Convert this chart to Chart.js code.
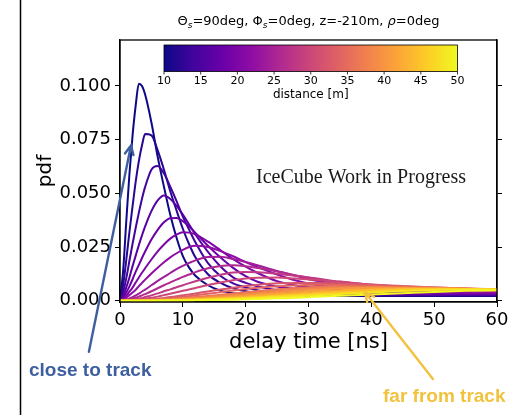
<!DOCTYPE html>
<html lang="en">
<head>
<meta charset="utf-8">
<title>delay time pdf</title>
<script src="https://cdn.jsdelivr.net/npm/chart.js@4.4.1/dist/chart.umd.min.js"></script>
<style>
  html, body { margin: 0; padding: 0; background: #fff; }
  #wrap { position: relative; width: 514px; height: 415px; }
</style>
</head>
<body>
<div id="wrap"><canvas id="grafico" width="514" height="415"></canvas></div>
<script>
// DATOS

const tiempos = [0, 0.5, 1, 1.5, 2, 2.5, 3, 3.5, 4, 5, 6, 7, 8, 9, 10, 11, 12, 14, 16, 18, 20, 22, 25, 28, 31, 35, 40, 45, 50, 55, 60];
const distancias = [10, 12, 14, 16, 18, 20, 22, 24, 26, 28, 30, 32, 34, 36, 38, 40, 42, 44, 46, 48, 50];

const pdf10 = [0, 0.014, 0.037, 0.059, 0.077, 0.091, 0.101, 0.100, 0.096, 0.083, 0.067, 0.053, 0.040, 0.0293, 0.0208, 0.0154, 0.0116, 0.0072, 0.0047, 0.0035, 0.0030, 0.0026, 0.0023, 0.0023, 0.0023, 0.0023, 0.0022, 0.0022, 0.0022, 0.0022, 0.0022];
const pdf12 = [0, 0.0073, 0.019, 0.032, 0.044, 0.0555, 0.065, 0.0724, 0.0776, 0.077, 0.070, 0.061, 0.051, 0.042, 0.0335, 0.0263, 0.0202, 0.0123, 0.0083, 0.0058, 0.0044, 0.0036, 0.0030, 0.0026, 0.0025, 0.0025, 0.0024, 0.0024, 0.0024, 0.0024, 0.0024];
const pdf14 = [0, 0.004, 0.0105, 0.0186, 0.0265, 0.034, 0.041, 0.0475, 0.053, 0.061, 0.0627, 0.0592, 0.0531, 0.0464, 0.0392, 0.0331, 0.0272, 0.0175, 0.0115, 0.0081, 0.0062, 0.0048, 0.0037, 0.0031, 0.0029, 0.0027, 0.0026, 0.0026, 0.0026, 0.0026, 0.0026];
const pdf16 = [0, 0.0023, 0.0062, 0.0108, 0.0161, 0.021, 0.0259, 0.0304, 0.0346, 0.0417, 0.0467, 0.049, 0.0474, 0.0442, 0.0401, 0.0355, 0.0308, 0.0227, 0.0159, 0.0109, 0.0083, 0.0066, 0.0049, 0.0040, 0.0035, 0.0032, 0.0030, 0.0029, 0.0029, 0.0029, 0.0029];
const pdf18 = [0, 0.0013, 0.0038, 0.0067, 0.010, 0.0135, 0.0167, 0.0199, 0.0229, 0.0285, 0.033, 0.0365, 0.0384, 0.0385, 0.037, 0.0346, 0.0316, 0.0256, 0.0201, 0.0153, 0.0114, 0.0087, 0.0066, 0.0054, 0.0044, 0.0038, 0.0035, 0.0033, 0.0032, 0.0032, 0.0032];
const pdf20 = [0, 0.0008, 0.0023, 0.0042, 0.0061, 0.0085, 0.0108, 0.013, 0.0151, 0.0192, 0.023, 0.0262, 0.0289, 0.0308, 0.0319, 0.0317, 0.0309, 0.0275, 0.0235, 0.0194, 0.0159, 0.0128, 0.0091, 0.0071, 0.0061, 0.005, 0.0042, 0.0039, 0.0037, 0.0036, 0.0035];
const pdf22 = [0, 0.0005, 0.0014, 0.0026, 0.0038, 0.0051, 0.0068, 0.0083, 0.0098, 0.0127, 0.0154, 0.0179, 0.0202, 0.0221, 0.0237, 0.025, 0.0256, 0.025, 0.0231, 0.0207, 0.018, 0.0155, 0.0122, 0.0094, 0.0074, 0.0061, 0.0053, 0.0046, 0.0042, 0.004, 0.0039];
const pdf24 = [0, 0.0002, 0.0005, 0.0011, 0.0017, 0.0025, 0.0033, 0.0043, 0.0052, 0.0072, 0.0092, 0.0111, 0.0129, 0.0147, 0.0162, 0.0176, 0.0188, 0.0203, 0.0205, 0.0194, 0.018, 0.0164, 0.0138, 0.0116, 0.0094, 0.0075, 0.006, 0.0056, 0.0051, 0.0047, 0.0044];
const pdf26 = [0, 0.0001, 0.0003, 0.0006, 0.001, 0.0014, 0.0019, 0.0025, 0.0031, 0.0044, 0.0058, 0.0072, 0.0085, 0.0098, 0.0111, 0.0122, 0.0133, 0.0151, 0.0162, 0.0165, 0.0161, 0.0152, 0.0136, 0.0118, 0.0103, 0.0084, 0.0065, 0.0054, 0.0051, 0.0048, 0.0045];
const pdf28 = [0, 0, 0.0001, 0.0003, 0.0005, 0.0007, 0.001, 0.0013, 0.0017, 0.0025, 0.0034, 0.0044, 0.0053, 0.0063, 0.0072, 0.0082, 0.0091, 0.0107, 0.0121, 0.0131, 0.0134, 0.0133, 0.0126, 0.0116, 0.0105, 0.0089, 0.0074, 0.0061, 0.0054, 0.005, 0.0049];
const pdf30 = [0, 0, 0.0001, 0.0001, 0.0002, 0.0004, 0.0005, 0.0007, 0.0009, 0.0014, 0.0019, 0.0026, 0.0032, 0.0039, 0.0046, 0.0052, 0.0059, 0.0073, 0.0085, 0.0095, 0.0103, 0.0107, 0.0108, 0.0103, 0.0098, 0.0088, 0.0075, 0.0066, 0.0057, 0.005, 0.0048];
const pdf32 = [0, 0, 0, 0, 0.0001, 0.0001, 0.0002, 0.0003, 0.0004, 0.0006, 0.0009, 0.0013, 0.0017, 0.0021, 0.0025, 0.0029, 0.0034, 0.0043, 0.0052, 0.006, 0.0068, 0.0074, 0.0081, 0.0083, 0.0083, 0.008, 0.0074, 0.0068, 0.0062, 0.0056, 0.0051];
const pdf34 = [0, 0, 0, 0, 0, 0.0001, 0.0001, 0.0002, 0.0003, 0.0004, 0.0006, 0.0009, 0.0012, 0.0015, 0.0018, 0.0021, 0.0025, 0.0032, 0.004, 0.0047, 0.0054, 0.006, 0.0067, 0.0071, 0.0074, 0.0073, 0.007, 0.0066, 0.0061, 0.0057, 0.0052];
const pdf36 = [0, 0, 0, 0, 0, 0, 0.0001, 0.0001, 0.0002, 0.0003, 0.0004, 0.0005, 0.0007, 0.0009, 0.0012, 0.0014, 0.0017, 0.0022, 0.0028, 0.0034, 0.004, 0.0045, 0.0053, 0.0059, 0.0064, 0.0066, 0.0065, 0.0063, 0.006, 0.0057, 0.0053];
const pdf38 = [0, 0, 0, 0, 0, 0, 0, 0.0001, 0.0001, 0.0002, 0.0003, 0.0004, 0.0005, 0.0007, 0.0009, 0.0011, 0.0013, 0.0018, 0.0023, 0.0028, 0.0033, 0.0038, 0.0045, 0.0052, 0.0057, 0.0062, 0.0063, 0.0061, 0.0059, 0.0056, 0.0053];
const pdf40 = [0, 0, 0, 0, 0, 0, 0, 0, 0.0001, 0.0001, 0.0002, 0.0003, 0.0004, 0.0005, 0.0007, 0.0008, 0.001, 0.0014, 0.0018, 0.0022, 0.0027, 0.0031, 0.0038, 0.0045, 0.005, 0.0057, 0.006, 0.0059, 0.0058, 0.0055, 0.0053];
const pdf42 = [0, 0, 0, 0, 0, 0, 0, 0, 0, 0.0001, 0.0001, 0.0002, 0.0003, 0.0004, 0.0005, 0.0006, 0.0007, 0.0011, 0.0014, 0.0017, 0.0021, 0.0025, 0.0031, 0.0037, 0.0043, 0.0049, 0.0055, 0.0057, 0.0057, 0.0055, 0.0053];
const pdf44 = [0, 0, 0, 0, 0, 0, 0, 0, 0, 0.0001, 0.0001, 0.0001, 0.0002, 0.0003, 0.0003, 0.0004, 0.0005, 0.0008, 0.001, 0.0013, 0.0016, 0.002, 0.0025, 0.003, 0.0036, 0.0042, 0.0049, 0.0054, 0.0055, 0.0054, 0.0052];
const pdf46 = [0, 0, 0, 0, 0, 0, 0, 0, 0, 0, 0.0001, 0.0001, 0.0001, 0.0002, 0.0002, 0.0003, 0.0004, 0.0006, 0.0008, 0.001, 0.0013, 0.0016, 0.0021, 0.0025, 0.003, 0.0036, 0.0043, 0.005, 0.0053, 0.0053, 0.0052];
const pdf48 = [0, 0, 0, 0, 0, 0, 0, 0, 0, 0, 0, 0.0001, 0.0001, 0.0001, 0.0002, 0.0002, 0.0003, 0.0004, 0.0006, 0.0008, 0.001, 0.0013, 0.0017, 0.0021, 0.0025, 0.0031, 0.0038, 0.0045, 0.005, 0.0052, 0.0052];
const pdf50 = [0, 0, 0, 0, 0, 0, 0, 0, 0, 0, 0, 0, 0.0001, 0.0001, 0.0001, 0.0001, 0.0002, 0.0003, 0.0004, 0.0005, 0.0007, 0.0008, 0.0011, 0.0014, 0.0018, 0.0023, 0.0029, 0.0035, 0.0041, 0.0046, 0.0049];

const series = [pdf10, pdf12, pdf14, pdf16, pdf18, pdf20, pdf22, pdf24, pdf26, pdf28, pdf30,
                pdf32, pdf34, pdf36, pdf38, pdf40, pdf42, pdf44, pdf46, pdf48, pdf50];

const ticksX = [0, 10, 20, 30, 40, 50, 60];
const ticksY = [0, 0.025, 0.05, 0.075, 0.1];
const ticksDistancia = [10, 15, 20, 25, 30, 35, 40, 45, 50];


// COLORES (mapa plasma)

const plasma = ['#0d0887', '#41049d', '#6a00a8', '#8f0da4', '#b12a90', '#cc4778',
                '#e16462', '#f2844b', '#fca636', '#fcce25', '#f0f921'];

function hexRgb(h) {
    return [parseInt(h.substr(1, 2), 16), parseInt(h.substr(3, 2), 16), parseInt(h.substr(5, 2), 16)];
}

function colorPlasma(f) {
    let pos = f * (plasma.length - 1);
    let i = Math.min(Math.floor(pos), plasma.length - 2);
    let t = pos - i;
    let a = hexRgb(plasma[i]), b = hexRgb(plasma[i + 1]);
    let c = a.map((v, k) => Math.round(v + (b[k] - v) * t));
    return 'rgb(' + c.join(',') + ')';
}

const dMin = distancias[0];
const dMax = distancias[distancias.length - 1];

const datasets = series.map(function (serie, i) {
    return {
        label: distancias[i] + ' m',
        data: tiempos.map((t, k) => ({ x: t, y: serie[k] })),
        borderColor: colorPlasma((distancias[i] - dMin) / (dMax - dMin)),
        borderWidth: 2,
        pointRadius: 0,
        cubicInterpolationMode: 'monotone',
        fill: false,
        order: series.length - i
    };
});


// DIBUJO EXTRA: marco, titulo, barra de color, textos y flechas

const FUENTE = "'DejaVu Sans', sans-serif";

function flecha(ctx, x0, y0, x1, y1, color) {
    let ang = Math.atan2(y1 - y0, x1 - x0);
    let largo = 10;
    ctx.save();
    ctx.strokeStyle = color;
    ctx.lineWidth = 2.4;
    ctx.lineCap = 'round';
    ctx.beginPath();
    ctx.moveTo(x0, y0);
    ctx.lineTo(x1, y1);
    ctx.moveTo(x1 - largo * Math.cos(ang - 0.45), y1 - largo * Math.sin(ang - 0.45));
    ctx.lineTo(x1, y1);
    ctx.lineTo(x1 - largo * Math.cos(ang + 0.45), y1 - largo * Math.sin(ang + 0.45));
    ctx.stroke();
    ctx.restore();
}

function titulo(ctx, cx, y) {
    // texto, tamaño, desplazamiento vertical, estilo
    const partes = [
        ['\u0398', 13, 0, ''], ['s', 9, 3, 'italic '], ['=90deg, \u03A6', 13, 0, ''], ['s', 9, 3, 'italic '],
        ['=0deg, z=-210m, ', 13, 0, ''], ['\u03C1', 13, 0, 'italic '], ['=0deg', 13, 0, '']
    ];
    let total = 0;
    partes.forEach(function (p) {
        ctx.font = p[3] + p[1] + 'px ' + FUENTE;
        total += ctx.measureText(p[0]).width;
    });
    let x = cx - total / 2;
    ctx.fillStyle = '#000';
    ctx.textAlign = 'left';
    ctx.textBaseline = 'alphabetic';
    partes.forEach(function (p) {
        ctx.font = p[3] + p[1] + 'px ' + FUENTE;
        ctx.fillText(p[0], x, y + p[2]);
        x += ctx.measureText(p[0]).width;
    });
}

const extras = {
    id: 'extras',
    afterDraw: function (chart) {
        const ctx = chart.ctx;
        const area = chart.chartArea;
        const sx = chart.scales.x;
        const sy = chart.scales.y;
        ctx.save();

        // marco de la figura a la izquierda
        ctx.strokeStyle = '#000';
        ctx.lineWidth = 1.5;
        ctx.beginPath();
        ctx.moveTo(20.5, 0);
        ctx.lineTo(20.5, chart.height);
        ctx.stroke();

        // caja de los ejes
        ctx.lineWidth = 1.3;
        ctx.strokeRect(area.left, area.top, area.right - area.left, area.bottom - area.top);

        // titulo
        titulo(ctx, (area.left + area.right) / 2, 25);

        // barra de color
        let bx0 = area.left + 44, bx1 = area.right - 39.5;
        let by0 = area.top + 5, bh = 26.5;
        let grad = ctx.createLinearGradient(bx0, 0, bx1, 0);
        plasma.forEach((c, i) => grad.addColorStop(i / (plasma.length - 1), c));
        ctx.fillStyle = grad;
        ctx.fillRect(bx0, by0, bx1 - bx0, bh);
        ctx.strokeStyle = '#000';
        ctx.lineWidth = 0.8;
        ctx.strokeRect(bx0, by0, bx1 - bx0, bh);
        ctx.fillStyle = '#000';
        ctx.font = '11px ' + FUENTE;
        ctx.textAlign = 'center';
        ctx.textBaseline = 'top';
        ticksDistancia.forEach(function (d) {
            let px = bx0 + (d - dMin) / (dMax - dMin) * (bx1 - bx0);
            ctx.beginPath();
            ctx.moveTo(px, by0 + bh);
            ctx.lineTo(px, by0 + bh + 3);
            ctx.stroke();
            ctx.fillText(String(d), px, by0 + bh + 4);
        });
        ctx.font = '12px ' + FUENTE;
        ctx.fillText('distance [m]', (bx0 + bx1) / 2, by0 + bh + 17);

        // marca de agua
        ctx.font = "20px 'Liberation Serif', serif";
        ctx.fillStyle = '#1a1a1a';
        ctx.textAlign = 'left';
        ctx.textBaseline = 'alphabetic';
        ctx.fillText('IceCube Work in Progress', 256, 183);

        // flechas con coordenadas de los ejes
        flecha(ctx, sx.getPixelForValue(-4.95), sy.getPixelForValue(-0.0238),
                    sx.getPixelForValue(1.75), sy.getPixelForValue(0.0723), '#3d5f9f');
        flecha(ctx, sx.getPixelForValue(49.8), sy.getPixelForValue(-0.0365),
                    sx.getPixelForValue(39.0), sy.getPixelForValue(0.0039), '#f3c23c');

        // textos de las flechas
        ctx.font = "bold 19px 'Liberation Sans', Arial, sans-serif";
        ctx.fillStyle = '#3d5f9f';
        ctx.fillText('close to track', 29, 376);
        ctx.fillStyle = '#f3c23c';
        ctx.fillText('far from track', 383, 402);

        ctx.restore();
    }
};


// GRAFICO

const fuenteEjes = { family: FUENTE, size: 18 };

new Chart(document.getElementById('grafico'), {
    type: 'line',
    data: { datasets: datasets },
    options: {
        responsive: false,
        animation: false,
        layout: { padding: { top: 40, right: 0, bottom: 0, left: 0 } },
        plugins: {
            legend: { display: false },
            tooltip: { enabled: false },
            title: { display: false }
        },
        scales: {
            x: {
                type: 'linear',
                position: 'bottom',
                min: 0,
                max: 60,
                afterBuildTicks: function (s) { s.ticks = ticksX.map(v => ({ value: v })); },
                afterFit: function (s) { s.height = 113; },
                ticks: { color: '#000', font: fuenteEjes, padding: 3, maxRotation: 0 },
                grid: { drawOnChartArea: false, drawTicks: true, tickLength: 5, tickColor: '#000', tickWidth: 1 },
                border: { display: true, color: '#000', width: 1.3 },
                title: {
                    display: true, text: 'delay time [ns]', color: '#000',
                    font: { family: FUENTE, size: 21 }, padding: { top: 0, bottom: 60 }
                }
            },
            y: {
                type: 'linear',
                position: 'left',
                min: -0.0006,
                max: 0.1214,
                afterBuildTicks: function (s) { s.ticks = ticksY.map(v => ({ value: v })); },
                afterFit: function (s) { s.width = 120; },
                ticks: {
                    color: '#000', font: fuenteEjes, padding: 4,
                    callback: function (v) { return v.toFixed(3); }
                },
                grid: { drawOnChartArea: false, drawTicks: true, tickLength: 5, tickColor: '#000', tickWidth: 1 },
                border: { display: true, color: '#000', width: 1.3 },
                title: {
                    display: true, text: 'pdf', color: '#000',
                    font: { family: FUENTE, size: 20 }, padding: { top: 34, bottom: 0 }
                }
            },
            y2: {
                type: 'linear',
                position: 'right',
                min: -0.0006,
                max: 0.1214,
                afterBuildTicks: function (s) { s.ticks = ticksY.map(v => ({ value: v })); },
                afterFit: function (s) { s.width = 17; },
                ticks: { display: false },
                grid: { drawOnChartArea: false, drawTicks: true, tickLength: 5, tickColor: '#000', tickWidth: 1 },
                border: { display: true, color: '#000', width: 1.3 }
            }
        }
    },
    plugins: [extras]
});
</script>
</body>
</html>
